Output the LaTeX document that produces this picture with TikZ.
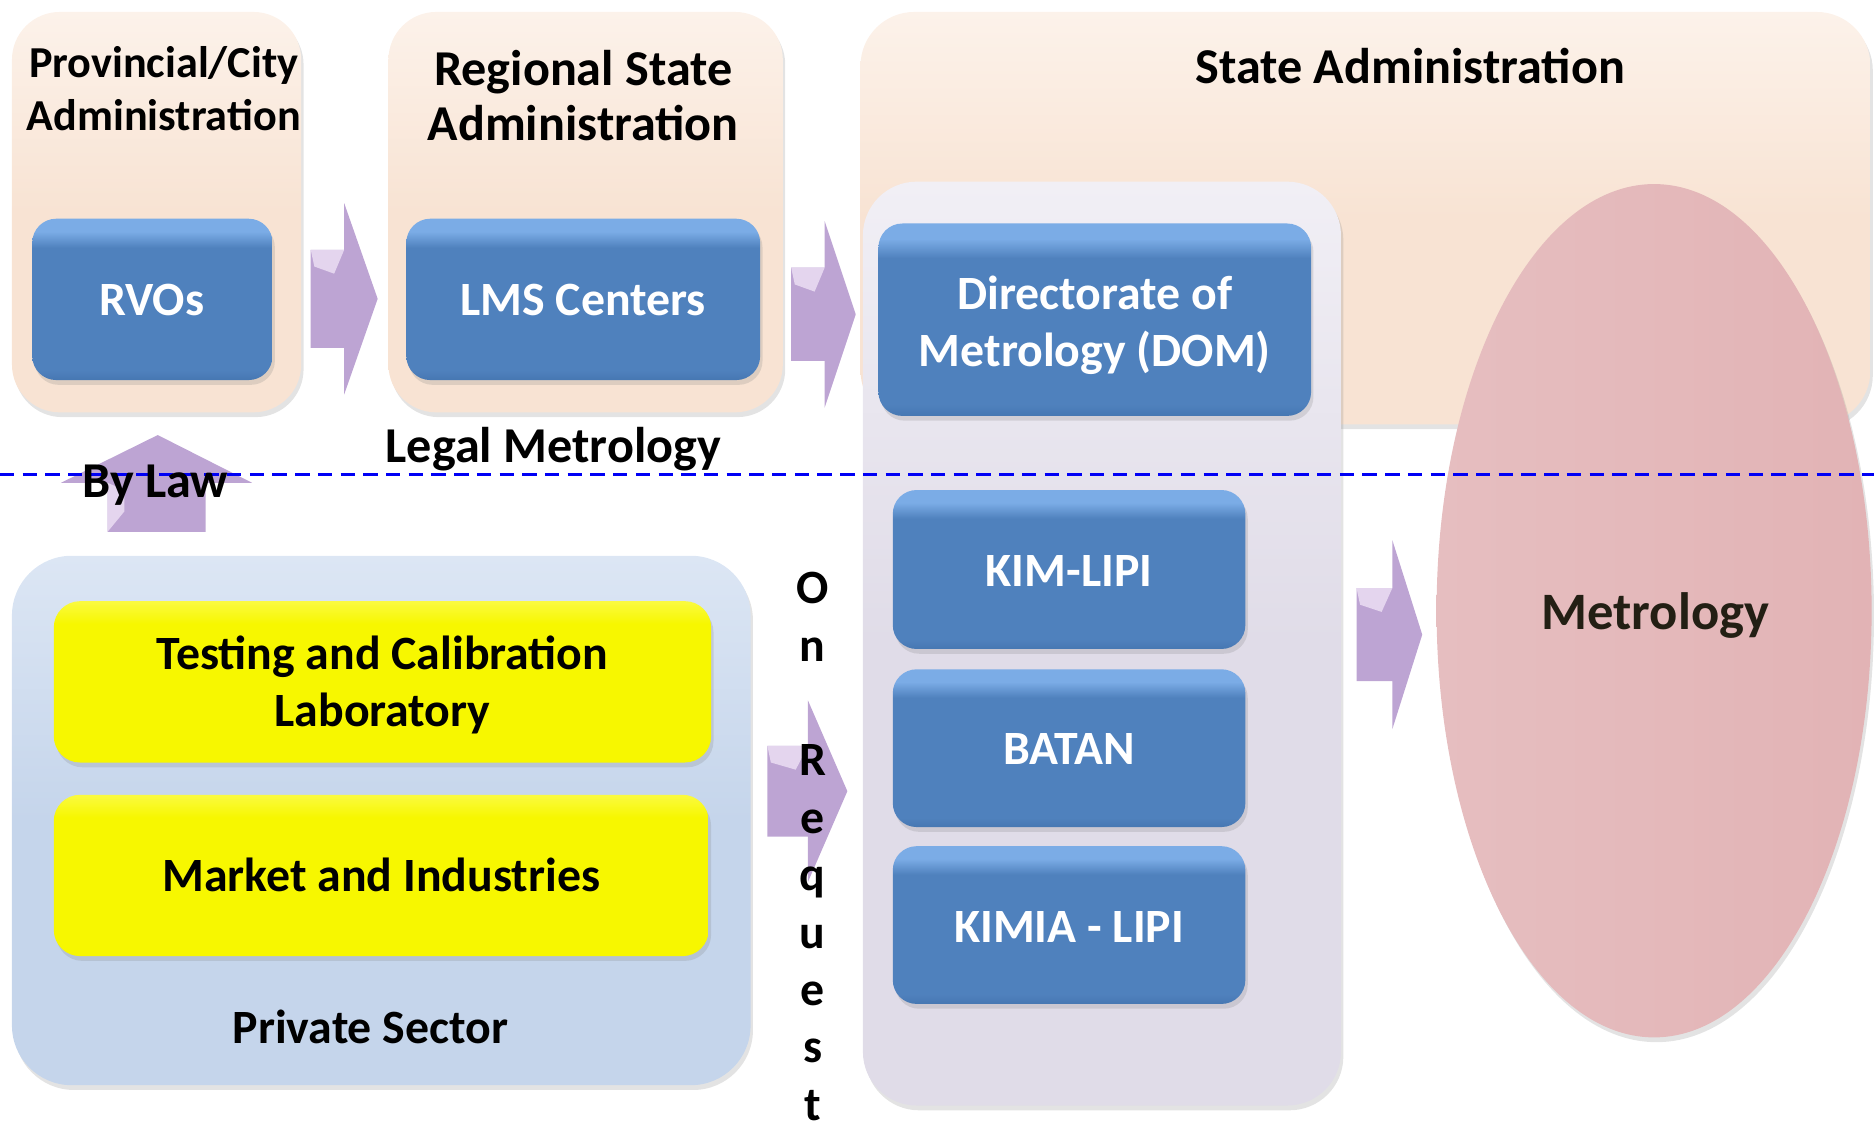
\documentclass[tikz,border=0pt]{standalone}
\usepackage{fontspec}
\setmainfont{Carlito}
\usetikzlibrary{shadows,shapes.geometric}
\definecolor{peach}{HTML}{F8E3D3}
\definecolor{peachL}{HTML}{FCF2EA}
\definecolor{lav}{HTML}{E0DCE8}
\definecolor{lavL}{HTML}{F1EFF5}
\definecolor{bluebox}{HTML}{4F81BD}
\definecolor{blueL}{HTML}{7BACE6}
\definecolor{blueD}{HTML}{4677B2}
\definecolor{yel}{HTML}{F7F700}
\definecolor{yelL}{HTML}{FAFA40}
\definecolor{psb}{HTML}{C5D5EB}
\definecolor{psbL}{HTML}{DCE6F4}
\definecolor{pinkE}{HTML}{E2B3B5}
\definecolor{pinkL}{HTML}{E6BEC0}
\definecolor{arrowC}{HTML}{BDA4D3}
\definecolor{arrowL}{HTML}{E4D5EE}
\definecolor{dashblue}{HTML}{0000F5}
\definecolor{metrotext}{HTML}{231F14}

\pgfdeclareverticalshading{blueglossy}{100bp}{color(0bp)=(blueD); color(25bp)=(blueD); color(28bp)=(bluebox); color(66bp)=(bluebox); color(71bp)=(blueL); color(75bp)=(blueL); color(100bp)=(blueL)}
\pgfdeclareverticalshading{yelglossy}{100bp}{color(0bp)=(yel); color(25bp)=(yel); color(68bp)=(yel); color(75bp)=(yelL); color(100bp)=(yelL)}

\newcommand\mkrarrow[6]{% tail x, head base x, tip x, centre y, shaft half, head half
  \fill[blockarrow] (#1,#4-#5) -- (#2,#4-#5) -- (#2,#4-#6) -- (#3,#4)
    -- (#2,#4+#6) -- (#2,#4+#5) -- (#1,#4+#5) -- cycle;
  \fill[arrowbevel] (#1,#4-#5) -- (#2,#4-#5) -- ({#2-0.3*(#2-#1)},#4-#5+20) -- (#1+3,#4-#5+14) -- cycle;}

\tikzset{
  x=1pt, y=-1pt,
  every node/.style={inner sep=0pt, outer sep=0pt},
  sh/.style={drop shadow={shadow xshift=2pt,shadow yshift=-4pt,opacity=0.22}},
  peachbox/.style={sh, rounded corners=40pt, top color=peachL, bottom color=peach, middle color=peach},
  lavbox/.style={sh, rounded corners=45pt, top color=lavL, bottom color=lav, middle color=lav},
  bluebtn/.style={sh, rounded corners=20pt, shading=blueglossy},
  yelbtn/.style={sh, rounded corners=22pt, shading=yelglossy},
  psbox/.style={sh, rounded corners=50pt, top color=psbL, bottom color=psb, middle color=psb},
  metroell/.style={sh, ellipse, left color=pinkL, right color=pinkE},
  blockarrow/.style={fill=arrowC},
  arrowbevel/.style={fill=arrowL},
  fnt/.style 2 args={font=\fontsize{#1}{#2}\selectfont\bfseries},
  dark/.style={text=black, align=center},
  light/.style={text=white, align=center},
  dashline/.style={draw=dashblue, line width=2.6pt, dash pattern=on 12pt off 7pt},
}

\begin{document}
\begin{tikzpicture}
\useasboundingbox (0,0) rectangle (1568,947);

% administration boxes
\node[peachbox, minimum width=242pt, minimum height=335pt] (prov) at (131,177.5) {};
\node[peachbox, minimum width=330pt, minimum height=335pt] (reg) at (490,177.5) {};
\node[peachbox, rounded corners=45pt, minimum width=845pt, minimum height=345pt] (state) at (1142.5,182.5) {};

% metrology institutes column
\node[lavbox, minimum width=400pt, minimum height=773pt] (lav) at (922,538.5) {};

% metrology ellipse
\node[metroell, minimum width=364pt, minimum height=714pt] (metro) at (1384,511) {};

% blue boxes
\node[bluebtn, minimum width=201pt, minimum height=135pt] (rvos) at (127.5,250.5) {};
\node[bluebtn, minimum width=296pt, minimum height=135pt] (lms) at (488,250.5) {};
\node[bluebtn, minimum width=362pt, minimum height=161pt] (dom) at (916,267.5) {};
\node[bluebtn, minimum width=295pt, minimum height=133pt] (kim) at (894.5,476.5) {};
\node[bluebtn, minimum width=295pt, minimum height=132pt] (batan) at (894.5,626) {};
\node[bluebtn, minimum width=295pt, minimum height=132pt] (kimia) at (894.5,774) {};

% private sector
\node[psbox, minimum width=618pt, minimum height=443pt] (priv) at (319,686.5) {};
\node[yelbtn, minimum width=550pt, minimum height=135pt] (test) at (320,570.5) {};
\node[yelbtn, minimum width=548pt, minimum height=135pt] (market) at (319,732.5) {};

% block arrows
\mkrarrow{260}{288}{316}{250}{41}{80}
\mkrarrow{662}{690}{716}{263}{39}{78}
\mkrarrow{642}{676}{709}{662}{38}{76}
\mkrarrow{1135}{1165}{1190}{531}{39}{79}
\fill[blockarrow] (131-41,445) -- (131-41,404) -- (131-80,404) -- (132,364)
  -- (131+80,404) -- (131+41,404) -- (131+41,445) -- cycle;
\fill[arrowbevel] (90,404) -- (90,445) -- (104,428) -- (104,410) -- cycle;

% dashed separator
\coordinate (dashL) at (0,397);
\coordinate (dashR) at (1568,397);
\draw[dashline] (dashL) -- (dashR);

% texts
\node[dark, fnt={37}{44}] (provT) at (137,74) {Provincial/City\\Administration};
\node[dark, fnt={42}{46}] (regT) at (488,80) {Regional State\\Administration};
\node[dark, fnt={42}{46}, anchor=base] (stateT) at (1180,69.5) {State Administration};
\node[light, fnt={40}{48}, anchor=base] (rvosT) at (127,264) {RVOs};
\node[light, fnt={40}{48}, anchor=base] (lmsT) at (488,264) {LMS Centers};
\node[light, fnt={40}{48}] (domT) at (916,272) {Directorate of\\Metrology (DOM)};
\node[light, fnt={40}{48}, anchor=base] (kimT) at (894.5,491) {KIM-LIPI};
\node[light, fnt={40}{48}, anchor=base] (batanT) at (894.5,640) {BATAN};
\node[light, fnt={40}{48}, anchor=base] (kimiaT) at (894.5,789) {KIMIA - LIPI};
\node[dark, fnt={40}{48}] (testT) at (320,573) {Testing and Calibration\\Laboratory};
\node[dark, fnt={40}{48}, anchor=base] (marketT) at (319,746) {Market and Industries};
\node[dark, fnt={40}{48}, anchor=base] (privT) at (310,873) {Private Sector};
\node[dark, fnt={42}{48}, anchor=base] (legalT) at (463,387) {Legal Metrology};
\node[dark, fnt={42}{48}, anchor=base] (bylawT) at (130,416) {By Law};
\node[text=metrotext, align=center, fnt={44}{50}, anchor=base] (metroT) at (1385,527) {Metrology};
\node[dark, fnt={40}{48}, anchor=north] (onreqT) at (680,479) {O\\n\\[48pt]R\\e\\q\\u\\e\\s\\t};
\end{tikzpicture}
\end{document}
